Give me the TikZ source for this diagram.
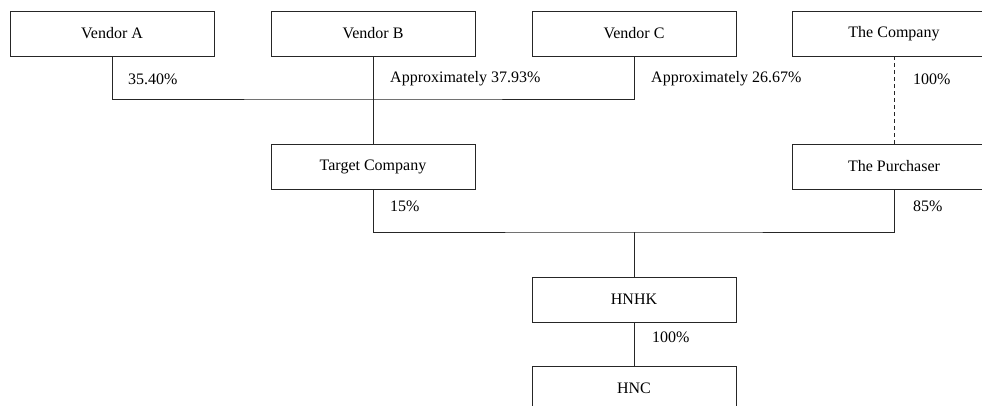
\documentclass[tikz,border=0pt]{standalone}
\usepackage{fontspec}
\setmainfont{Liberation Serif}
\begin{document}
\begin{tikzpicture}[x=1pt,y=-1pt,
  box/.style={draw=black!85,line width=0.9pt,rectangle,minimum width=204pt,minimum height=45pt,inner sep=0pt,font=\fontsize{16}{19}\selectfont},
  pct/.style={anchor=west,inner sep=0pt,font=\fontsize{16}{19}\selectfont},
  link/.style={draw=black!85,line width=0.9pt}]
\useasboundingbox (0,0) rectangle (982,406);
\clip (0,0) rectangle (982,406);
\node[box] (va) at (112,33.5) {Vendor A};
\node[box] (vb) at (373,33.5) {Vendor B};
\node[box] (vc) at (634,33.5) {Vendor C};
\node[box] (co) at (894,33.5) {The Company};
\node[box] (tc) at (373,166.5) {Target Company};
\node[box] (pu) at (894,166.5) {The Purchaser};
\node[box] (hk) at (634,299.5) {HNHK};
\node[box] (hc) at (634,388.5) {HNC};
\coordinate (bar1) at (373,99);
\coordinate (bar2) at (634,232);
\draw[link] (va.south) |- (bar1) -| (vc.south);
\draw[link] (vb.south) -- (tc.north);
\draw[link,dash pattern=on 4pt off 3pt] (co.south) -- (pu.north);
\draw[link] (tc.south) |- (bar2) -| (pu.south);
\draw[link] (bar2) -- (hk.north);
\draw[link] (hk.south) -- (hc.north);
\node[pct] (p1) at (128,79) {35.40\%};
\node[pct] (p2) at (390,79) {Approximately 37.93\%};
\node[pct] (p3) at (651,79) {Approximately 26.67\%};
\node[pct] (p4) at (913,79) {100\%};
\node[pct] (p5) at (390,206) {15\%};
\node[pct] (p6) at (913,206) {85\%};
\node[pct] (p7) at (652,337) {100\%};
\end{tikzpicture}
\end{document}
